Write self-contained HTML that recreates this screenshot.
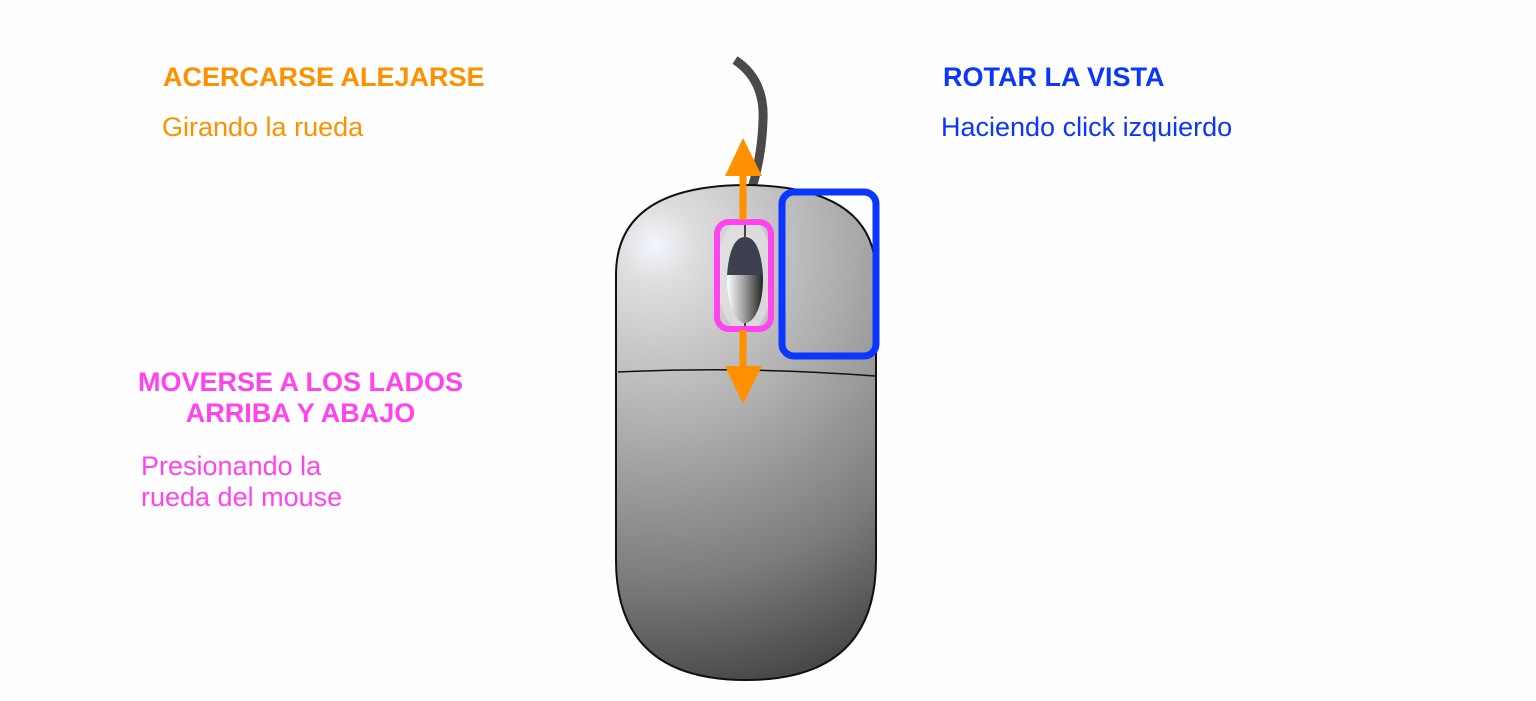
<!DOCTYPE html>
<html><head><style>
body{margin:0;width:1536px;height:701px;background:#fefefe;position:relative;overflow:hidden;font-family:"Liberation Sans",Arial,sans-serif}
.t{position:absolute;white-space:nowrap;font-size:27px;line-height:31px}
</style></head><body>
<svg width="1536" height="701" style="position:absolute;left:0;top:0">
<defs>
<radialGradient id="g" cx="655" cy="245" r="480" gradientUnits="userSpaceOnUse">
<stop offset="0" stop-color="#f4f6ff"/>
<stop offset="0.08" stop-color="#dedede"/>
<stop offset="0.35" stop-color="#b4b4b4"/>
<stop offset="0.7" stop-color="#7c7c7c"/>
<stop offset="1" stop-color="#3a3a3a"/>
</radialGradient>
<linearGradient id="w" x1="0" x2="1"><stop offset="0" stop-color="#fff"/><stop offset="0.5" stop-color="#999"/><stop offset="1" stop-color="#222"/></linearGradient>
</defs>
<path d="M735 60 Q765 80 763 120 Q762 155 752 188" fill="none" stroke="#4a4a4a" stroke-width="9"/>
<path d="M616 275 Q616 186 745 185 Q876 186 876 275 L876 560 Q876 680 746 680 Q616 680 616 560 Z" fill="url(#g)" stroke="#111" stroke-width="2"/>
<path d="M618 372 Q745 366 875 376" fill="none" stroke="#111" stroke-width="1.5"/>
<ellipse cx="745" cy="275" rx="28" ry="58" fill="#e8e8e8" opacity="0.6"/>
<line x1="745" y1="225" x2="745" y2="330" stroke="#111" stroke-width="1.5"/>
<ellipse cx="745" cy="280" rx="18" ry="43" fill="url(#w)"/>
<path d="M727 275 Q730 237 745 237 Q760 237 763 275 Z" fill="#3e4050"/>
<rect x="717" y="222" width="54" height="107" rx="12" fill="none" stroke="#ff44ee" stroke-width="6"/>
<rect x="782" y="192" width="94" height="164" rx="12" fill="none" stroke="#0a36ff" stroke-width="7"/>
<line x1="743" y1="170" x2="743" y2="220" stroke="#ff9000" stroke-width="7"/>
<polygon points="743,138 725,176 762,176" fill="#ff9000"/>
<line x1="743" y1="330" x2="743" y2="370" stroke="#ff9000" stroke-width="7"/>
<polygon points="743,404 725,366 762,366" fill="#ff9000"/>
</svg>
<div class="t" style="left:163px;top:62px;font-weight:bold;color:#ff9000">ACERCARSE ALEJARSE</div>
<div class="t" style="left:162px;top:112px;color:#ff9000">Girando la rueda</div>
<div class="t" style="left:943px;top:62px;font-weight:bold;color:#0a36ff">ROTAR LA VISTA</div>
<div class="t" style="left:941px;top:112px;color:#0a36ff">Haciendo click izquierdo</div>
<div class="t" style="left:138px;top:367px;font-weight:bold;color:#ff44ee;text-align:center">MOVERSE A LOS LADOS<br>ARRIBA Y ABAJO</div>
<div class="t" style="left:141px;top:451px;color:#ff44ee">Presionando la<br>rueda del mouse</div>
</body></html>
